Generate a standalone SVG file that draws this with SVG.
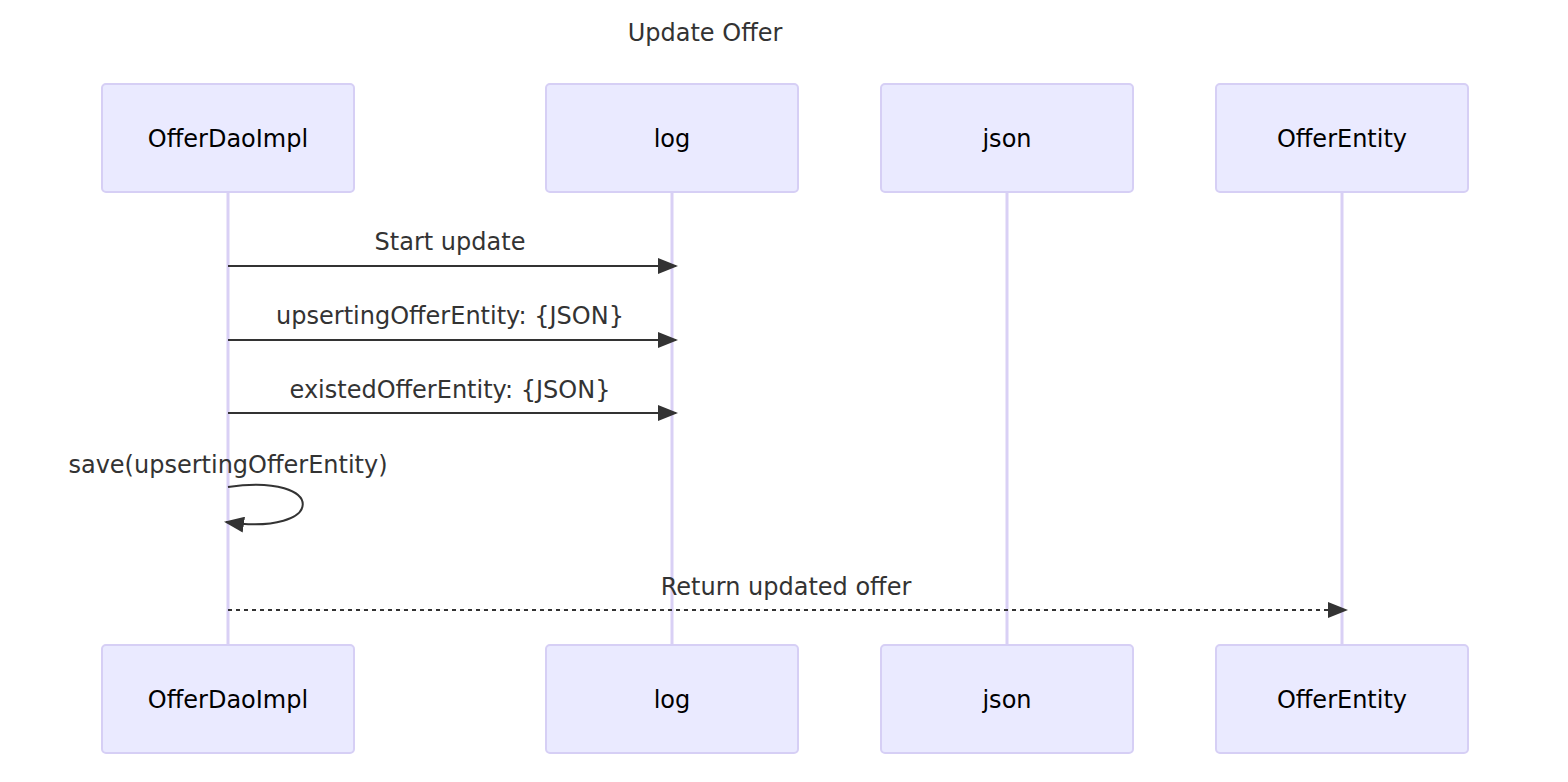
<svg xmlns="http://www.w3.org/2000/svg" width="1568" height="782" viewBox="0 0 1568 782">
<style>
.actor{fill:#eaeaff;stroke:#d6cff5;stroke-width:2}
.atext{font-family:"DejaVu Sans",sans-serif;font-size:24px;fill:#000;text-anchor:middle;dominant-baseline:central}
.life{stroke:#d9d0f5;stroke-width:3}
.msg{stroke:#333;stroke-width:2;fill:none}
.mtext{font-family:"DejaVu Sans",sans-serif;font-size:24px;fill:#333;text-anchor:middle}
</style>
<defs>
<marker id="ah" viewBox="0 0 20 16" refX="18" refY="8" markerWidth="20" markerHeight="16" markerUnits="userSpaceOnUse" orient="auto">
<path d="M0,0 L20,8 L0,16 z" fill="#333"/>
</marker>
</defs>
<rect width="1568" height="782" fill="#fff"/>
<text x="705" y="41" class="mtext">Update Offer</text>
<g id="lifelines">
<line class="life" x1="228" y1="192" x2="228" y2="645"/>
<line class="life" x1="672" y1="192" x2="672" y2="645"/>
<line class="life" x1="1007" y1="192" x2="1007" y2="645"/>
<line class="life" x1="1342" y1="192" x2="1342" y2="645"/>
</g>
<g id="OfferDaoImpl">
<rect class="actor" x="102" y="84" width="252" height="108" rx="4"/>
<text class="atext" x="228" y="139">OfferDaoImpl</text>
<rect class="actor" x="102" y="645" width="252" height="108" rx="4"/>
<text class="atext" x="228" y="700">OfferDaoImpl</text>
</g>
<g id="log">
<rect class="actor" x="546" y="84" width="252" height="108" rx="4"/>
<text class="atext" x="672" y="139">log</text>
<rect class="actor" x="546" y="645" width="252" height="108" rx="4"/>
<text class="atext" x="672" y="700">log</text>
</g>
<g id="json">
<rect class="actor" x="881" y="84" width="252" height="108" rx="4"/>
<text class="atext" x="1007" y="139">json</text>
<rect class="actor" x="881" y="645" width="252" height="108" rx="4"/>
<text class="atext" x="1007" y="700">json</text>
</g>
<g id="OfferEntity">
<rect class="actor" x="1216" y="84" width="252" height="108" rx="4"/>
<text class="atext" x="1342" y="139">OfferEntity</text>
<rect class="actor" x="1216" y="645" width="252" height="108" rx="4"/>
<text class="atext" x="1342" y="700">OfferEntity</text>
</g>
<g id="connectors">
<text class="mtext" x="450" y="250">Start update</text>
<line class="msg" x1="228" y1="266" x2="676" y2="266" marker-end="url(#ah)"/>
<text class="mtext" x="450" y="324">upsertingOfferEntity: {JSON}</text>
<line class="msg" x1="228" y1="340" x2="676" y2="340" marker-end="url(#ah)"/>
<text class="mtext" x="450" y="398">existedOfferEntity: {JSON}</text>
<line class="msg" x1="228" y1="413" x2="676" y2="413" marker-end="url(#ah)"/>
<text class="mtext" x="228" y="473">save(upsertingOfferEntity)</text>
<path class="msg" d="M228,487 C328,472 328,537 226,522" marker-end="url(#ah)"/>
<text class="mtext" x="786" y="595">Return updated offer</text>
<line class="msg" x1="228" y1="610" x2="1346" y2="610" stroke-dasharray="4,4" marker-end="url(#ah)"/>
</g>
</svg>
